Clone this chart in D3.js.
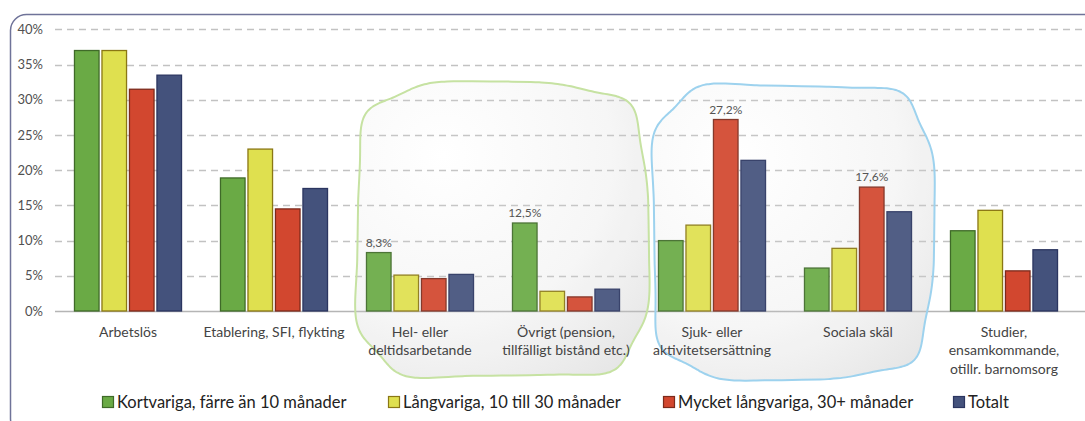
<!DOCTYPE html>
<html>
<head>
<meta charset="utf-8">
<script src="https://cdn.jsdelivr.net/npm/d3@7"></script>
<style>
  html, body { margin: 0; padding: 0; background: #fff; }
  svg { display: block; font-family: "Lato", "Open Sans", sans-serif; }
</style>
</head>
<body>
<div id="chart"></div>
<script>
// ---------- DATA ----------
const categories = [
  "Arbetslös",
  "Etablering, SFI, flykting",
  "Hel- eller\ndeltidsarbetande",
  "Övrigt (pension,\ntillfälligt bistånd etc.)",
  "Sjuk- eller\naktivitetsersättning",
  "Sociala skäl",
  "Studier,\nensamkommande,\notillr. barnomsorg"
];
const seriesNames = [
  "Kortvariga, färre än 10 månader",
  "Långvariga, 10 till 30 månader",
  "Mycket långvariga, 30+ månader",
  "Totalt"
];
const kortvariga  = [37.0, 18.9, 8.3, 12.5, 10.0, 6.1, 11.4];
const langvariga  = [37.0, 23.0, 5.1, 2.8, 12.2, 8.9, 14.3];
const mycketLang  = [31.5, 14.5, 4.6, 2.0, 27.2, 17.6, 5.7];
const totalt      = [33.5, 17.4, 5.2, 3.1, 21.4, 14.1, 8.7];
const seriesValues = [kortvariga, langvariga, mycketLang, totalt];
const yTicks = [0, 5, 10, 15, 20, 25, 30, 35, 40];
// labelled bars: [category index, series index]
const labelledBars = [[2, 0], [3, 0], [4, 2], [5, 2]];
// highlighted category groups
const highlightGroups = [[2, 3], [4, 5]];

// ---------- STYLE ----------
const fills   = ["#6aaa45", "#dfe04f", "#d2472f", "#44527c"];
const strokes = ["#3f6a28", "#8a7714", "#7c2a1b", "#2b3560"];
const blobStrokes = ["#c6e2a2", "#9dd2ee"];
const blobPad = [[-10, 27], [-6, 20]];

const W = 1085, H = 421;
const svg = d3.select("#chart").append("svg").attr("width", W).attr("height", H);

const defs = svg.append("defs");
const grad = defs.append("radialGradient").attr("id", "blobFill")
  .attr("cx", "0.3").attr("cy", "0.25").attr("r", "0.95");
grad.append("stop").attr("offset", "0%").attr("stop-color", "#ffffff");
grad.append("stop").attr("offset", "60%").attr("stop-color", "#f6f6f6");
grad.append("stop").attr("offset", "100%").attr("stop-color", "#e4e4e4");

// outer frame
svg.append("rect").attr("x", 10.5).attr("y", 14.5).attr("width", 1100).attr("height", 420)
  .attr("rx", 16).attr("fill", "#fff").attr("stroke", "#6f7399").attr("stroke-width", 1.5);

const x0 = 55, x1 = 1077, yBase = 311, yTop = 29.4;
const x = d3.scaleBand().domain(categories).range([x0, x1]).paddingInner(0.26).paddingOuter(0.13);
const xs = d3.scaleBand().domain(d3.range(seriesNames.length)).range([0, x.bandwidth()]).paddingInner(0.07);
const y = d3.scaleLinear().domain([0, 40]).range([yBase, yTop]);

// highlight blobs (wavy rounded shapes)
function blobPath(bx0, by0, bx1, by1, phase) {
  const cx = (bx0 + bx1) / 2, cy = (by0 + by1) / 2;
  const a = (bx1 - bx0) / 2, b = (by1 - by0) / 2;
  const n = 4.5, N = 240, pts = [];
  for (let i = 0; i < N; i++) {
    const t = i / N * 2 * Math.PI;
    const c = Math.cos(t), s = Math.sin(t);
    const wave = 3 * Math.sin(t * 7 + phase);
    const px = cx + (a + wave) * Math.sign(c) * Math.pow(Math.abs(c), 2 / n);
    const py = cy + (b + wave) * Math.sign(s) * Math.pow(Math.abs(s), 2 / n);
    pts.push([px, py]);
  }
  return d3.line().curve(d3.curveCardinalClosed)(pts);
}
const blobPaths = highlightGroups.map((g, gi) => {
  const left = x(categories[g[0]]) + blobPad[gi][0];
  const right = x(categories[g[1]]) + x.bandwidth() + blobPad[gi][1];
  return blobPath(left, 84, right, 378, gi * 1.7 + 0.6);
});
blobPaths.forEach(p => {
  svg.append("path").attr("d", p).attr("fill", "url(#blobFill)").attr("stroke", "none");
});

// grid
const grid = svg.append("g");
yTicks.forEach(t => {
  grid.append("line").attr("x1", x0).attr("x2", W).attr("y1", Math.round(y(t)) + 0.5).attr("y2", Math.round(y(t)) + 0.5)
    .attr("stroke", t === 0 ? "#b5b5b5" : "#c2c2c2").attr("stroke-width", 1.5)
    .attr("stroke-dasharray", t === 0 ? null : "7,5");
});

// y axis labels
const yAxis = d3.axisLeft(y).tickValues(yTicks).tickFormat(d => d + "%").tickSize(0).tickPadding(0);
const ya = svg.append("g").attr("transform", "translate(43,0)").call(yAxis);
ya.select(".domain").remove();
ya.selectAll("text").attr("font-size", 13).attr("fill", "#505050").attr("font-family", "Lato, sans-serif");

// bars
const barG = svg.append("g");
categories.forEach((cat, ci) => {
  seriesValues.forEach((vals, si) => {
    barG.append("rect")
      .attr("x", x(cat) + xs(si) + 0.5)
      .attr("y", y(vals[ci]))
      .attr("width", xs.bandwidth() - 1)
      .attr("height", yBase - y(vals[ci]))
      .attr("fill", fills[si]).attr("stroke", strokes[si]).attr("stroke-width", 1.3);
  });
});

// blob overlay + outline
blobPaths.forEach((p, gi) => {
  svg.append("path").attr("d", p).attr("fill", "#ffffff").attr("fill-opacity", 0.07)
    .attr("stroke", blobStrokes[gi]).attr("stroke-width", 2);
});

// data labels
labelledBars.forEach(([ci, si]) => {
  const v = seriesValues[si][ci];
  svg.append("text")
    .attr("x", x(categories[ci]) + xs(si) + xs.bandwidth() / 2)
    .attr("y", y(v) - 6)
    .attr("text-anchor", "middle").attr("font-size", 12).attr("fill", "#555")
    .text(v.toFixed(1).replace(".", ",") + "%");
});

// category labels
categories.forEach(cat => {
  const t = svg.append("text").attr("text-anchor", "middle").attr("font-size", 14).attr("fill", "#444")
    .attr("x", x(cat) + x.bandwidth() / 2).attr("y", 337);
  cat.split("\n").forEach((line, i) => {
    t.append("tspan").attr("x", x(cat) + x.bandwidth() / 2).attr("dy", i === 0 ? 0 : 18.3).text(line);
  });
});

// legend
const legendX = [102, 388, 663, 953];
const lg = svg.append("g");
seriesNames.forEach((name, i) => {
  lg.append("rect").attr("x", legendX[i] + 0.5).attr("y", 396.5).attr("width", 11).attr("height", 11)
    .attr("fill", fills[i]).attr("stroke", strokes[i]).attr("stroke-width", 1.2);
  lg.append("text").attr("x", legendX[i] + 15).attr("y", 408).attr("font-size", 16.5).attr("fill", "#222")
    .text(name);
});
</script>
</body>
</html>
